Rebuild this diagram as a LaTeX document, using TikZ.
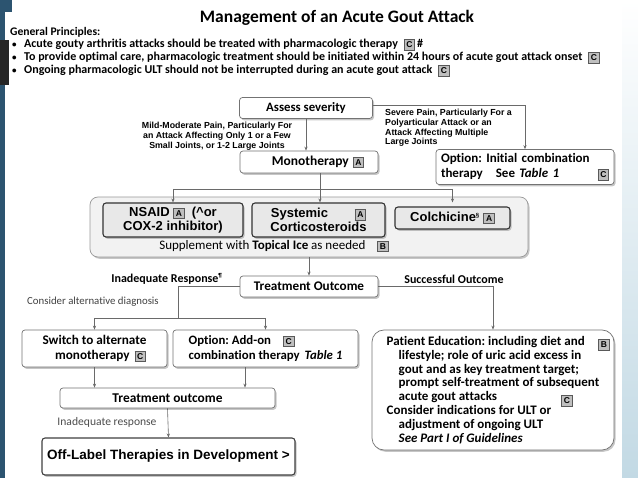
\documentclass[tikz,border=0pt]{standalone}
\usepackage{fontspec}
\setmainfont{Carlito}[Ligatures=NoCommon]
\newfontfamily\arial{Liberation Sans}
\usetikzlibrary{arrows.meta,shadows}

\definecolor{stripblue}{HTML}{2C5470}
\definecolor{paleblue}{HTML}{C2D9E4}
\definecolor{lineg}{HTML}{6A6A6A}

\frenchspacing
\newcommand{\fs}[2]{\fontsize{#1}{#2}\selectfont}
\newcommand{\grd}[1]{{\setlength{\fboxsep}{1.8pt}\setlength{\fboxrule}{0.8pt}\fcolorbox{black!65}{black!25}{\arial\bfseries\fs{8.5}{9}\vphantom{C}#1}}}

\tikzset{
  box/.style={draw=black!55, fill=white, rounded corners=3pt, line width=.7pt,
    drop shadow={shadow xshift=1.5pt,shadow yshift=-1.8pt,opacity=.45}, inner sep=2pt},
  drug/.style={box, draw=black!80, fill=black!9, line width=1.1pt, align=center,
    font=\arial\bfseries\fs{13}{14}},
  conn/.style={draw=lineg, line width=.6pt},
  arr/.style={conn, -{Stealth[length=4pt,width=3.2pt]}},
  lbl/.style={inner sep=0pt}
}

\begin{document}
\begin{tikzpicture}[x=1pt,y=-1pt]
\useasboundingbox (0,0) rectangle (638,478);
\fill[stripblue] (0,0) rectangle (5,478);
\fill[stripblue] (0,0) rectangle (12,12);
\fill[black!85] (0,40) rectangle (9,85);
\shade[top color=white, bottom color=paleblue] (622,0) rectangle (638,478);

\node[lbl, anchor=base, font=\bfseries\fs{17.5}{20}] (title) at (337,23) {Management of an Acute Gout Attack};
\node[lbl, anchor=base west, font=\bfseries\fs{11.6}{12}] (gp) at (10,36) {General Principles:};
\node[lbl, anchor=base west, font=\bfseries\fs{12}{13}] (p1) at (12,48)
  {\makebox[12pt][l]{\fs{9}{9}\textbullet}Acute gouty arthritis attacks should be treated with pharmacologic therapy\hspace{6pt}\grd{C}\,\#};
\node[lbl, anchor=base west, font=\bfseries\fs{12}{13}] (p2) at (12,61)
  {\makebox[12pt][l]{\fs{9}{9}\textbullet}To provide optimal care, pharmacologic treatment should be initiated within 24 hours of acute gout attack onset\hspace{6pt}\grd{C}};
\node[lbl, anchor=base west, font=\bfseries\fs{12}{13}] (p3) at (12,74)
  {\makebox[12pt][l]{\fs{9}{9}\textbullet}Ongoing pharmacologic ULT should not be interrupted during an acute gout attack\hspace{6pt}\grd{C}};

\node[box, minimum width=133pt, minimum height=21pt, font=\bfseries\fs{12.8}{14}] (assess) at (306,108) {Assess severity};
\node[box, minimum width=138pt, minimum height=22pt, font=\bfseries\fs{13.5}{14}] (mono) at (309,162) {\hspace{18pt}Monotherapy\hspace{4pt}\grd{A}};
\node[box, minimum width=178pt, minimum height=35pt, text width=168pt, align=left, font=\bfseries\fs{13}{15}] (opt) at (525,167)
  {Option: Initial combination\\ therapy\quad See \textit{Table 1}\hfill\grd{C}};
\node[lbl, align=center, font=\arial\bfseries\fs{8.8}{9.8}] (mild) at (217,136)
  {Mild-Moderate Pain, Particularly For\\ an Attack Affecting Only 1 or a Few\\ Small Joints, or 1-2 Large Joints};
\node[lbl, anchor=north west, align=left, font=\arial\bfseries\fs{8.8}{9.8}] (severe) at (385,109)
  {Severe Pain, Particularly For a\\ Polyarticular Attack or an\\ Attack Affecting Multiple\\ Large Joints};

\node[box, draw=black!40, fill=black!5, rounded corners=8pt, minimum width=438pt, minimum height=60pt] (cont) at (309,227) {};
\node[drug, minimum width=140pt, minimum height=34pt] (nsaid) at (173,220) {NSAID \grd{A}\ \ (\textasciicircum or\\ COX-2 inhibitor)};
\node[drug, minimum width=133pt, minimum height=34pt] (cortico) at (318.5,220) {Systemic\hspace{38pt}\llap{\grd{A}}\\ Corticosteroids\hspace{12pt}};
\node[drug, minimum width=115pt, minimum height=22pt] (colch) at (452.5,218) {Colchicine\textsuperscript{\fs{6}{6}§} \grd{A}};
\node[lbl, font=\fs{13}{14}] (supp) at (274,246) {Supplement with \textbf{Topical Ice} as needed\hspace{12pt}\grd{B}};

\node[box, minimum width=138pt, minimum height=21pt, font=\bfseries\fs{13.2}{14}] (outcome) at (309,286.5) {Treatment Outcome};
\node[lbl, font=\bfseries\fs{12}{12}] (inad) at (167,279) {Inadequate Response\textsuperscript{\fs{6}{6}¶}};
\node[lbl, font=\bfseries\fs{12}{12}] (succ) at (454,279) {Successful Outcome};
\node[lbl, anchor=west, text=black!75, font=\fs{10.8}{12}] (alt) at (27,302) {Consider alternative diagnosis};

\node[box, minimum width=145pt, minimum height=37pt, align=center, font=\bfseries\fs{13.2}{15}] (switch) at (94.5,348.5)
  {Switch to alternate\\ \hspace{12pt}monotherapy\hspace{5pt}\grd{C}};
\node[box, minimum width=185pt, minimum height=37pt, align=left, font=\bfseries\fs{12.8}{15}] (addon) at (265.5,348.5)
  {Option: Add-on\hspace{12pt}\grd{C}\\ combination therapy\hspace{5pt}\textit{Table 1}};
\node[box, rounded corners=12pt, minimum width=242pt, minimum height=120pt, align=left, font=\bfseries\fs{13}{13.8}] (patient) at (493,390)
  {Patient Education: including diet and\\
   \hspace*{12pt}lifestyle; role of uric acid excess in\\
   \hspace*{12pt}gout and as key treatment target;\\
   \hspace*{12pt}prompt self-treatment of subsequent\\
   \hspace*{12pt}acute gout attacks\\
   Consider indications for ULT or\\
   \hspace*{12pt}adjustment of ongoing ULT\\
   \hspace*{12pt}\textit{See Part I of Guidelines}};
\node[lbl] (gB) at (604,345) {\grd{B}};
\node[lbl] (gC) at (567,401) {\grd{C}};

\node[box, minimum width=215pt, minimum height=20pt, font=\bfseries\fs{13.4}{14}] (outc2) at (167.5,398) {Treatment outcome};
\node[lbl, text=black!70, font=\fs{11.6}{12}] (inresp) at (107,422) {Inadequate response};
\node[box, draw=black!75, line width=1.1pt, minimum width=253pt, minimum height=37pt, font=\arial\bfseries\fs{13.5}{14}] (offl) at (168.5,456.5)
  {Off-Label Therapies in Development >};

\coordinate (bus) at (320,189);
\coordinate (fork) at (178,318);
\coordinate (down2) at (245,318);

\draw[arr] (assess.south) -- (assess.south |- mono.north);
\draw[arr] (assess.east |- 0,105) -| (opt.north);
\draw[conn] (mono.south -| bus) -- (bus);
\draw[conn] (nsaid.north |- bus) -- (colch.north |- bus);
\draw[arr] (nsaid.north |- bus) -- (nsaid.north);
\draw[arr] (bus) -- (bus |- nsaid.north);
\draw[arr] (colch.north |- bus) -- (colch.north |- nsaid.north);
\draw[arr] (cont.south) -- (outcome.north);
\draw[conn] (outcome.west) -| (fork);
\draw[conn] (switch.north |- fork) -- (addon.north |- fork);
\draw[arr] (switch.north |- fork) -- (switch.north);
\draw[arr] (addon.north |- fork) -- (addon.north);
\draw[arr] (outcome.east) -| (patient.north);
\draw[arr] (switch.south) -- (switch.south |- outc2.north);
\draw[arr] (down2 |- addon.south) -- (down2 |- outc2.north);
\draw[arr] (outc2.south) -- (offl.north);
\end{tikzpicture}
\end{document}
